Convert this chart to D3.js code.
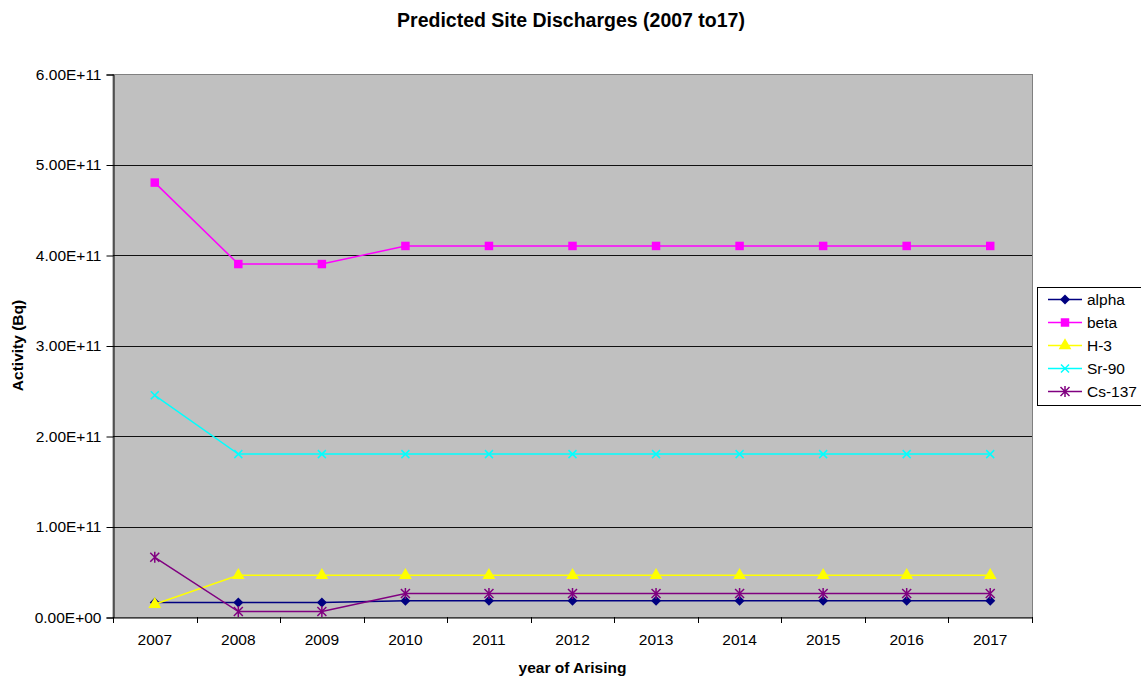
<!DOCTYPE html>
<html>
<head>
<meta charset="utf-8">
<script src="https://cdn.jsdelivr.net/npm/d3@7"></script>
<style>
  body { margin: 0; background: #fff; }
  text { font-family: Arial, "Liberation Sans", sans-serif; }
</style>
</head>
<body>
<div id="chart"></div>
<script>
const width = 1141;
const height = 677;

const years = ["2007", "2008", "2009", "2010", "2011", "2012", "2013", "2014", "2015", "2016", "2017"];
const alpha = [1.6e10, 1.6e10, 1.6e10, 1.8e10, 1.8e10, 1.8e10, 1.8e10, 1.8e10, 1.8e10, 1.8e10, 1.8e10];
const beta = [4.8e11, 3.9e11, 3.9e11, 4.1e11, 4.1e11, 4.1e11, 4.1e11, 4.1e11, 4.1e11, 4.1e11, 4.1e11];
const h3 = [1.4e10, 4.6e10, 4.6e10, 4.6e10, 4.6e10, 4.6e10, 4.6e10, 4.6e10, 4.6e10, 4.6e10, 4.6e10];
const sr90 = [2.45e11, 1.8e11, 1.8e11, 1.8e11, 1.8e11, 1.8e11, 1.8e11, 1.8e11, 1.8e11, 1.8e11, 1.8e11];
const cs137 = [6.6e10, 6e9, 6e9, 2.6e10, 2.6e10, 2.6e10, 2.6e10, 2.6e10, 2.6e10, 2.6e10, 2.6e10];
const yTicks = [0, 1e11, 2e11, 3e11, 4e11, 5e11, 6e11];

const series = [
  { name: "alpha", values: alpha, color: "#000080", symbol: "diamond", size: 5 },
  { name: "beta", values: beta, color: "#FF00FF", symbol: d3.symbolSquare, size: 72 },
  { name: "H-3", values: h3, color: "#FFFF00", symbol: d3.symbolTriangle, size: 70 },
  { name: "Sr-90", values: sr90, color: "#00FFFF", symbol: "x", size: 4 },
  { name: "Cs-137", values: cs137, color: "#800080", symbol: "star", size: 4.5 }
];

const plot = { left: 113, right: 1032, top: 74, bottom: 617 };
const font = "Arial, 'Liberation Sans', sans-serif";

const svg = d3.select("#chart").append("svg")
  .attr("width", width)
  .attr("height", height);

const x = d3.scaleBand().domain(years).range([plot.left, plot.right]);
const y = d3.scaleLinear().domain([0, 6e11]).range([plot.bottom, plot.top]);

// plot background
svg.append("rect")
  .attr("x", plot.left).attr("y", plot.top + 0.5)
  .attr("width", plot.right - plot.left + 0.5).attr("height", plot.bottom - plot.top)
  .attr("fill", "#C0C0C0").attr("stroke", "#808080").attr("stroke-width", 1);

// gridlines
svg.append("g").selectAll("line")
  .data(yTicks.slice(1, -1))
  .enter().append("line")
  .attr("x1", plot.left).attr("x2", plot.right)
  .attr("y1", d => Math.round(y(d)) + 0.5).attr("y2", d => Math.round(y(d)) + 0.5)
  .attr("stroke", "#111").attr("stroke-width", 1);

// y axis
const yAxis = d3.axisLeft(y).tickValues(yTicks)
  .tickFormat(d => d === 0 ? "0.00E+00" : (d / 1e11).toFixed(2) + "E+11")
  .tickSize(7).tickPadding(5);
const yG = svg.append("g").attr("transform", `translate(${plot.left + 0.5},0.5)`)
  .call(yAxis)
  .attr("font-size", null).attr("font-family", null);
yG.selectAll("text").style("font-size", "15.5px").style("font-family", font).attr("fill", "#000");
yG.selectAll("line, path").attr("stroke", "#000");

// x axis: ticks on category boundaries
const xAxis = d3.axisBottom(x).tickSize(0).tickPadding(16);
const xG = svg.append("g").attr("transform", `translate(0,${plot.bottom + 0.5})`)
  .call(xAxis)
  .attr("font-size", null).attr("font-family", null);
xG.select(".domain").attr("stroke", "#000");
xG.selectAll("text").style("font-size", "15.5px").style("font-family", font).attr("fill", "#000");
svg.append("g").selectAll("line")
  .data(years.concat(["end"]))
  .enter().append("line")
  .attr("x1", (d, i) => Math.round(plot.left + i * x.step()) + 0.5)
  .attr("x2", (d, i) => Math.round(plot.left + i * x.step()) + 0.5)
  .attr("y1", plot.bottom).attr("y2", plot.bottom + 6)
  .attr("stroke", "#000");

function markerPath(s) {
  const r = s.size;
  if (s.symbol === "diamond") {
    return `M0,${-r}L${r},0L0,${r}L${-r},0Z`;
  }
  if (s.symbol === "x") {
    return `M${-r},${-r}L${r},${r}M${-r},${r}L${r},${-r}`;
  }
  if (s.symbol === "star") {
    return `M${-r},${-r}L${r},${r}M${-r},${r}L${r},${-r}M0,${-r - 1}L0,${r + 1}`;
  }
  return d3.symbol().type(s.symbol).size(s.size)();
}

const line = d3.line()
  .x((d, i) => x(years[i]) + x.bandwidth() / 2)
  .y(d => y(d));

series.forEach(s => {
  const g = svg.append("g");
  g.append("path")
    .attr("d", line(s.values))
    .attr("fill", "none")
    .attr("stroke", s.color)
    .attr("stroke-width", 1.5);
  const isStroke = s.symbol === "x" || s.symbol === "star";
  g.selectAll("path.m")
    .data(s.values)
    .enter().append("path")
    .attr("class", "m")
    .attr("transform", (d, i) => `translate(${x(years[i]) + x.bandwidth() / 2},${y(d)})`)
    .attr("d", markerPath(s))
    .attr("fill", isStroke ? "none" : s.color)
    .attr("stroke", isStroke ? s.color : "none")
    .attr("stroke-width", isStroke ? 1.5 : 0);
});

// title
svg.append("text")
  .attr("x", 571).attr("y", 27)
  .attr("text-anchor", "middle")
  .style("font-size", "19.5px").attr("font-weight", "bold")
  .text("Predicted Site Discharges (2007 to17)");

// axis titles
svg.append("text")
  .attr("x", (plot.left + plot.right) / 2).attr("y", 673)
  .attr("text-anchor", "middle")
  .style("font-size", "15.5px").attr("font-weight", "bold")
  .text("year of Arising");
svg.append("text")
  .attr("transform", `translate(23,${(plot.top + plot.bottom) / 2}) rotate(-90)`)
  .attr("text-anchor", "middle")
  .style("font-size", "15.5px").attr("font-weight", "bold")
  .text("Activity (Bq)");

// legend
const legend = svg.append("g").attr("transform", "translate(1037,287)");
legend.append("rect")
  .attr("x", 0.5).attr("y", 0.5).attr("width", 110).attr("height", 118)
  .attr("fill", "#fff").attr("stroke", "#000");
series.forEach((s, i) => {
  const ly = 12.5 + i * 23;
  const isStroke = s.symbol === "x" || s.symbol === "star";
  legend.append("line")
    .attr("x1", 11).attr("x2", 45).attr("y1", ly).attr("y2", ly)
    .attr("stroke", s.color).attr("stroke-width", 1.5);
  legend.append("path")
    .attr("transform", `translate(28,${ly})`)
    .attr("d", markerPath(s))
    .attr("fill", isStroke ? "none" : s.color)
    .attr("stroke", isStroke ? s.color : "none")
    .attr("stroke-width", isStroke ? 1.5 : 0);
  legend.append("text")
    .attr("x", 50).attr("y", ly + 5.5)
    .style("font-size", "15.5px")
    .text(s.name);
});
</script>
</body>
</html>
